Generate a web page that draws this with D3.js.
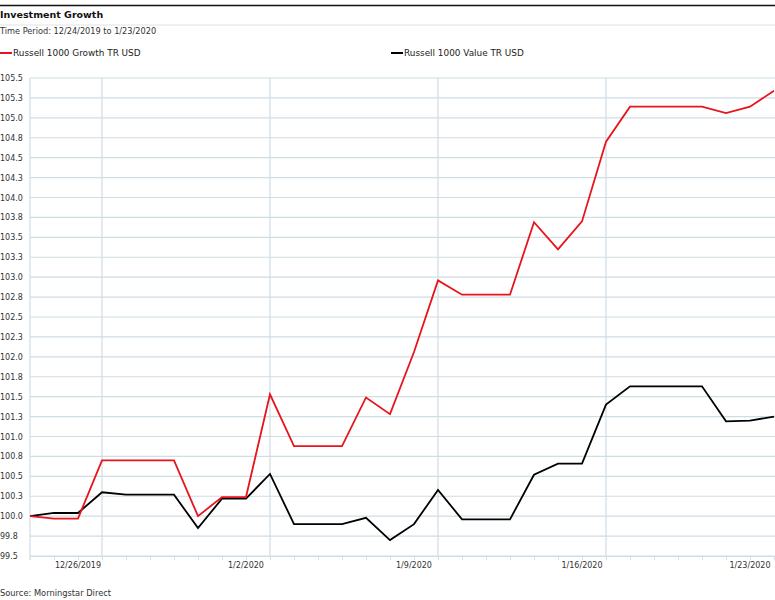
<!DOCTYPE html>
<html>
<head>
<meta charset="utf-8">
<script src="https://cdn.jsdelivr.net/npm/d3@7"></script>
<style>
	body { margin: 0; background: #fff; }
	svg { display: block; font-family: "DejaVu Sans", Verdana, sans-serif; }
</style>
</head>
<body>
<svg></svg>
<script>
// Investment Growth chart

let svgWidth = 775;
let svgHeight = 600;

// data
let fechas = ["2019-12-24", "2019-12-25", "2019-12-26", "2019-12-27", "2019-12-28", "2019-12-29", "2019-12-30", "2019-12-31",
	"2020-01-01", "2020-01-02", "2020-01-03", "2020-01-04", "2020-01-05", "2020-01-06", "2020-01-07", "2020-01-08",
	"2020-01-09", "2020-01-10", "2020-01-11", "2020-01-12", "2020-01-13", "2020-01-14", "2020-01-15", "2020-01-16",
	"2020-01-17", "2020-01-18", "2020-01-19", "2020-01-20", "2020-01-21", "2020-01-22", "2020-01-23", "2020-01-24"];

let growth = [100.00, 99.97, 99.97, 100.70, 100.70, 100.70, 100.70, 100.00,
	100.24, 100.24, 101.53, 100.88, 100.88, 100.88, 101.49, 101.28,
	102.06, 102.96, 102.78, 102.78, 102.78, 103.69, 103.35, 103.70,
	104.70, 105.14, 105.14, 105.14, 105.14, 105.06, 105.14, 105.34];

let value = [100.00, 100.04, 100.04, 100.30, 100.27, 100.27, 100.27, 99.85,
	100.22, 100.22, 100.53, 99.90, 99.90, 99.90, 99.98, 99.70,
	99.90, 100.33, 99.96, 99.96, 99.96, 100.52, 100.66, 100.66,
	101.40, 101.63, 101.63, 101.63, 101.63, 101.19, 101.20, 101.25];

let series = [
	{ name: "Russell 1000 Growth TR USD", values: growth, color: "#e8141b" },
	{ name: "Russell 1000 Value TR USD", values: value, color: "#000000" }
];

let yTicks = [99.5, 99.75, 100, 100.25, 100.5, 100.75, 101, 101.25, 101.5, 101.75, 102, 102.25, 102.5,
	102.75, 103, 103.25, 103.5, 103.75, 104, 104.25, 104.5, 104.75, 105, 105.25, 105.5];
let xLabels = ["2019-12-26", "2020-01-02", "2020-01-09", "2020-01-16", "2020-01-23"];
let xGrid = ["2019-12-27", "2020-01-03", "2020-01-10", "2020-01-17"];

let parseDate = d3.timeParse("%Y-%m-%d");
let dias = fechas.map(parseDate);

let svg = d3.select("svg")
	.attr("width", svgWidth)
	.attr("height", svgHeight);

let plotLeft = 30, plotRight = 774, plotTop = 78, plotBottom = 556;

let xScale = d3.scaleTime()
	.domain(d3.extent(dias))
	.range([plotLeft, plotRight]);

let yScale = d3.scaleLinear()
	.domain([99.5, 105.5])
	.range([plotBottom, plotTop]);

// header
svg.append("line")
	.attr("x1", 0).attr("x2", svgWidth)
	.attr("y1", 5.5).attr("y2", 5.5)
	.attr("stroke", "#111").attr("stroke-width", 1.3);

svg.append("text")
	.attr("x", 0).attr("y", 18)
	.attr("font-size", 9.5).attr("font-weight", "bold").attr("fill", "#111")
	.text("Investment Growth");

svg.append("line")
	.attr("x1", 0).attr("x2", svgWidth)
	.attr("y1", 25).attr("y2", 25)
	.attr("stroke", "#e2e2e2").attr("stroke-width", 1);

svg.append("text")
	.attr("x", 0).attr("y", 34)
	.attr("font-size", 8.2).attr("fill", "#333")
	.text("Time Period: 12/24/2019 to 1/23/2020");

// legend
let legendX = [0, 391];
let legend = svg.selectAll(".legend")
	.data(series)
	.enter()
	.append("g")
	.attr("class", "legend")
	.attr("transform", function (d, i) {
		return "translate(" + legendX[i] + ",53)";
	});

legend.append("line")
	.attr("x1", 0).attr("x2", 12)
	.attr("stroke", function (d) { return d.color; })
	.attr("stroke-width", 2);

legend.append("text")
	.attr("x", 13).attr("y", 3.2)
	.attr("font-size", 8.9).attr("fill", "#222")
	.text(function (d) { return d.name; });

// grid
svg.append("g")
	.selectAll("line")
	.data(yTicks)
	.enter()
	.append("line")
	.attr("x1", plotLeft).attr("x2", svgWidth)
	.attr("y1", function (d) { return yScale(d); })
	.attr("y2", function (d) { return yScale(d); })
	.attr("stroke", "#cfdde4").attr("stroke-width", 1.2);

svg.append("g")
	.selectAll("line")
	.data(xGrid)
	.enter()
	.append("line")
	.attr("x1", function (d) { return xScale(parseDate(d)); })
	.attr("x2", function (d) { return xScale(parseDate(d)); })
	.attr("y1", plotTop).attr("y2", plotBottom)
	.attr("stroke", "#cfdde4").attr("stroke-width", 1.2);

svg.append("line")
	.attr("x1", plotLeft).attr("x2", plotLeft)
	.attr("y1", plotTop).attr("y2", plotBottom + 4)
	.attr("stroke", "#cfdde4").attr("stroke-width", 1.2);

// y labels (left aligned at the page edge)
svg.append("g")
	.selectAll("text")
	.data(yTicks)
	.enter()
	.append("text")
	.attr("x", 0)
	.attr("y", function (d) { return yScale(d) + 3; })
	.attr("font-size", 8).attr("fill", "#333")
	.text(function (d) { return d.toFixed(1); });

// x axis
let xAxis = d3.axisBottom(xScale)
	.tickValues(dias)
	.tickSize(4)
	.tickFormat("");

let gx = svg.append("g")
	.attr("transform", "translate(0," + plotBottom + ")")
	.call(xAxis);
gx.select(".domain").attr("stroke", "#cfdde4");
gx.selectAll(".tick line").attr("stroke", "#d8dfe3");

svg.append("g")
	.selectAll("text")
	.data(xLabels)
	.enter()
	.append("text")
	.attr("x", function (d) { return xScale(parseDate(d)); })
	.attr("y", 568)
	.attr("text-anchor", "middle")
	.attr("font-size", 8).attr("fill", "#333")
	.text(function (d) { return d3.timeFormat("%-m/%-d/%Y")(parseDate(d)); });

// lines
let linea = d3.line()
	.x(function (d, i) { return xScale(dias[i]); })
	.y(function (d) { return yScale(d); });

svg.selectAll(".serie")
	.data(series.slice().reverse())
	.enter()
	.append("path")
	.attr("class", "serie")
	.attr("d", function (d) { return linea(d.values); })
	.attr("fill", "none")
	.attr("stroke", function (d) { return d.color; })
	.attr("stroke-width", 1.8)
	.attr("stroke-linejoin", "miter");

// source
svg.append("text")
	.attr("x", 0).attr("y", 596)
	.attr("font-size", 8.3).attr("fill", "#333")
	.text("Source: Morningstar Direct");
</script>
</body>
</html>
